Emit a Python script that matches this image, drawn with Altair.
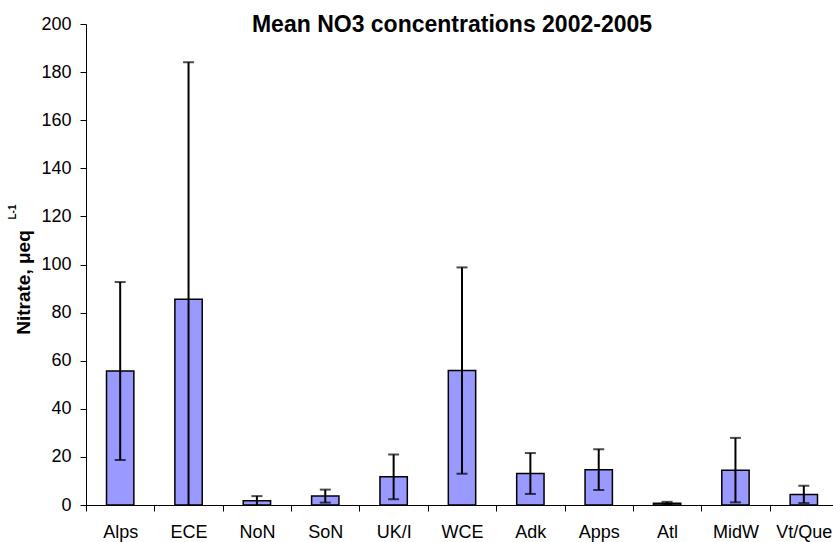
import altair as alt
import pandas as pd

# Regions and mean nitrate (µeq/L) with one standard deviation, 2002-2005
regions = ["Alps", "ECE", "NoN", "SoN", "UK/I", "WCE", "Adk", "Apps", "Atl", "MidW", "Vt/Que"]
mean_no3 = [55.7, 85.6, 1.8, 3.7, 11.7, 55.9, 13.1, 14.7, 0.7, 14.5, 4.4]
sd_no3 = [37.0, 98.5, 1.9, 2.7, 9.3, 42.9, 8.5, 8.5, 0.6, 13.4, 3.6]
y_ticks = [0, 20, 40, 60, 80, 100, 120, 140, 160, 180, 200]
chart_title = "Mean NO3 concentrations 2002-2005"

df = pd.DataFrame({"region": regions, "mean": mean_no3, "sd": sd_no3})
df["hi"] = df["mean"] + df["sd"]
df["lo"] = df["mean"] - df["sd"]
# whiskers are cut at the axis floor; a lower cap is only drawn when it is on the chart
df["lo_clip"] = df["lo"].clip(lower=0)
low_caps = df[df["lo"] >= 0]

FONT = "Liberation Sans"
BAR_FILL = "#9999FF"

x_enc = alt.X(
    "region:N",
    sort=regions,
    scale=alt.Scale(range=[0, 752], paddingInner=0, paddingOuter=0),
    axis=alt.Axis(
        title=None,
        tickBand="extent",
        tickSize=6,
        tickColor="black",
        domainColor="black",
        labelAngle=0,
        labelFontSize=18,
        labelColor="black",
        labelPadding=12,
    ),
)

y_scale = alt.Scale(domain=[0, 200], nice=False)
y_axis = alt.Axis(
    values=y_ticks,
    grid=False,
    tickSize=6,
    tickColor="black",
    domainColor="black",
    labelFontSize=18,
    labelColor="black",
    labelPadding=9,
    title="Nitrate, μeq",
    titleFontSize=19,
    titleFontWeight="bold",
    titleColor="black",
    titleAngle=270,
    titleAlign="center",
    titleBaseline="middle",
    titleX=-63,
    titleY=258,
)

bars = alt.Chart(df).mark_bar(
    width=alt.RelativeBandSize(0.4),
    fill=BAR_FILL,
    stroke="black",
    strokeWidth=1.5,
).encode(
    x=x_enc,
    y=alt.Y("mean:Q", scale=y_scale, axis=y_axis),
)

whiskers = alt.Chart(df).mark_rule(color="black", strokeWidth=2).encode(
    x=alt.X("region:N", sort=regions),
    y="lo_clip:Q",
    y2="hi:Q",
)

top_caps = alt.Chart(df).mark_tick(color="black", size=11, thickness=2).encode(
    x=alt.X("region:N", sort=regions),
    y="hi:Q",
)

bottom_caps = alt.Chart(low_caps).mark_tick(color="black", size=11, thickness=2).encode(
    x=alt.X("region:N", sort=regions),
    y="lo:Q",
)

# superscript unit part of the y-axis title
unit_sup = alt.Chart(pd.DataFrame({"t": ["L-1"]})).mark_text(
    angle=270, fontSize=10, fontWeight="bold", color="black", font=FONT
).encode(text="t:N", x=alt.value(-73), y=alt.value(188))

# chart heading, sitting just inside the top of the plot area
heading = alt.Chart(pd.DataFrame({"t": [chart_title]})).mark_text(
    fontSize=23, fontWeight="bold", color="black", font=FONT,
    align="center", baseline="alphabetic",
).encode(text="t:N", x=alt.value(366), y=alt.value(8))

chart = (
    alt.layer(bars, whiskers, top_caps, bottom_caps, unit_sup, heading)
    .properties(
        width=747,
        height=481,
        autosize=alt.AutoSizeParams(type="none"),
        padding={"left": 86, "top": 24, "right": 0, "bottom": 37},
    )
    .configure(font=FONT)
    .configure_view(stroke=None)
)

chart.save("out.html", embed_options={"renderer": "svg", "actions": False})
